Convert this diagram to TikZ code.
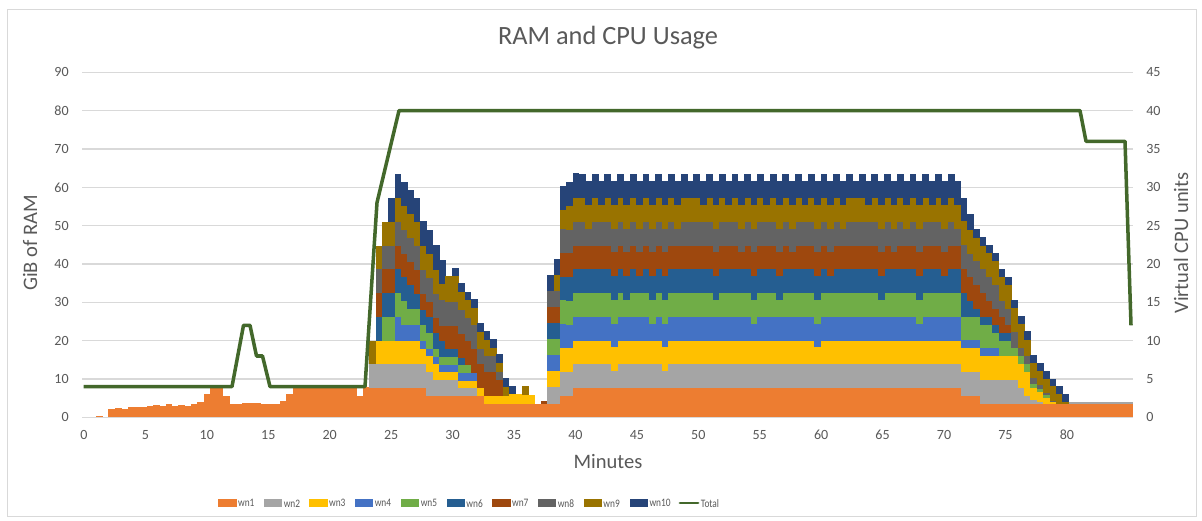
\documentclass[tikz,border=0pt]{standalone}
\usepackage{fontspec}
\setmainfont{Carlito}
\definecolor{w1}{HTML}{ED7D31}
\definecolor{w2}{HTML}{A5A5A5}
\definecolor{w3}{HTML}{FFC000}
\definecolor{w4}{HTML}{4472C4}
\definecolor{w5}{HTML}{70AD47}
\definecolor{w6}{HTML}{255E91}
\definecolor{w7}{HTML}{9E480E}
\definecolor{w8}{HTML}{636363}
\definecolor{w9}{HTML}{997300}
\definecolor{w10}{HTML}{264478}
\definecolor{totc}{HTML}{43682B}
\definecolor{gridc}{HTML}{D9D9D9}
\definecolor{txt}{HTML}{595959}
\newcommand\drawstack[1]{%
  \pgfmathsetmacro\za{\qa}%
  \pgfmathsetmacro\zb{\za+\qb}%
  \pgfmathsetmacro\zc{\zb+\qc}%
  \pgfmathsetmacro\zd{\zc+\qd}%
  \pgfmathsetmacro\ze{\zd+\qe}%
  \pgfmathsetmacro\zf{\ze+\qf}%
  \pgfmathsetmacro\zg{\zf+\qg}%
  \pgfmathsetmacro\zh{\zg+\qh}%
  \pgfmathsetmacro\zi{\zh+\qi}%
  \pgfmathsetmacro\zj{\zi+\qj}%
  \fill[w10] (#1,0) rectangle ++(1.07,\zj);
  \fill[w9] (#1,0) rectangle ++(1.07,\zi);
  \fill[w8] (#1,0) rectangle ++(1.07,\zh);
  \fill[w7] (#1,0) rectangle ++(1.07,\zg);
  \fill[w6] (#1,0) rectangle ++(1.07,\zf);
  \fill[w5] (#1,0) rectangle ++(1.07,\ze);
  \fill[w4] (#1,0) rectangle ++(1.07,\zd);
  \fill[w3] (#1,0) rectangle ++(1.07,\zc);
  \fill[w2] (#1,0) rectangle ++(1.07,\zb);
  \fill[w1] (#1,0) rectangle ++(1.07,\za);
}
\tikzset{
  gridln/.style={draw=gridc, line width=0.6pt},
  ticklab/.style={text=txt, font=\fontsize{8}{9.6}\selectfont, inner sep=0pt},
  axt/.style={text=txt, font=\fontsize{11.7}{14}\selectfont, inner sep=0pt},
  ttl/.style={text=txt, font=\fontsize{15}{18}\selectfont, inner sep=0pt},
  legtxt/.style={text=txt, font=\fontsize{6.5}{7.8}\selectfont, inner sep=0pt, anchor=west, xscale=0.82, transform shape},
  tot/.style={draw=totc, line width=2pt, line join=round},
}
\begin{document}
\begin{tikzpicture}[x=0.02cm,y=-0.02cm]
\useasboundingbox (0,0) rectangle (1202,520);
\fill[white] (0,0) rectangle (1202,520);
\draw[gridc, line width=0.6pt] (7.5,9.5) rectangle (1196.5,516.5);
% gridlines
\foreach \k in {1,...,9}{\draw[gridln] (82,{417.3-38.33*\k}) -- (1133,{417.3-38.33*\k});}
% data
\begin{scope}[shift={(83,417.3)}, x=0.1272cm, y=0.07666cm]
\foreach \cc/\v in {2/0.3,4/2.1,5/2.3,6/2.1,7/2.6,8/2.8,9/2.6,10/3.0,11/3.2,12/3.0,13/3.5,14/3.0,15/3.3,16/3.0,17/3.6,18/4.0,19/6.0,20/7.8,21/7.8,22/5.6,23/3.6,24/3.6,25/3.7,26/3.7,27/3.7,28/3.6,29/3.6,30/3.6,31/4.2,32/6.0,33/7.8,34/7.8,35/7.8,36/7.8,37/7.8,38/7.8,39/7.8,40/7.8,41/7.8,42/7.8,43/5.6,44/7.8}
  {\fill[w1] (\cc,0) rectangle ++(1.07,\v);}
\foreach \cc/\qa/\qb/\qc/\qd/\qe/\qf/\qg/\qh/\qi/\qj in {
45/7.6/6.2/0/0/0/0/0/0/6.2/0,
46/7.6/6.2/6.2/0/0/6.2/6.2/6.2/6.2/0,
47/7.6/6.2/6.2/0/6.2/6.2/6.2/6.2/6.2/0,
48/7.6/6.2/6.2/0/6.2/6.2/6.2/6.2/6.2/6.2,
49/7.6/6.2/6.2/6.2/6.2/6.2/6.2/6.2/6.2/6.2,
50/7.6/6.2/6.2/4.1/6.2/6.2/6.2/6.2/6.2/6.2,
51/7.6/6.2/6.2/4.1/4.1/6.2/6.2/6.2/6.2/6.2,
52/7.6/6.2/6.2/4.1/4.1/4.1/6.2/6.2/6.2/6.2,
53/7.6/6.2/4.1/2.0/4.1/4.1/4.1/6.2/6.2/6.6,
54/5.6/6.2/4.1/2.0/4.1/4.1/4.1/6.2/6.2/6.2,
55/5.6/4.1/4.1/2.0/2.0/4.1/4.1/6.2/6.2/6.6,
56/5.6/4.1/2.0/2.0/2.0/4.1/4.1/6.8/4.1/6.2,
57/5.6/4.1/2.0/2.0/2.0/2.0/6.2/6.2/6.9/0,
58/5.6/4.1/2.0/2.0/2.0/2.0/6.2/6.2/6.9/1.9,
59/5.6/2.0/2.0/2.0/2.0/2.0/6.2/6.2/4.8/2.2,
60/5.6/2.0/2.0/2.0/2.0/0/6.2/6.2/4.6/2.2,
61/5.6/2.0/2.0/2.0/0/0/6.2/6.2/4.6/2.2,
62/5.6/0/2.0/0/0/0/6.2/4.1/4.4/2.2,
63/3.6/0/2.0/0/0/0/6.2/4.1/4.4/2.2,
64/3.6/0/2.0/0/0/0/6.2/4.1/2.3/2.2,
65/3.6/0/2.0/0/0/0/4.1/2.0/2.5/2.2,
66/3.6/0/2.0/0/0/0/0/0/2.4/2.2,
67/3.6/0/2.4/0/0/0/0/0/0/2.2,
68/3.6/0/2.4/0/0/0/0/0/0/0,
69/3.6/0/2.2/0/0/0/0/0/2.4/0,
70/3.6/0/2.2/0/0/0/0/0/0/0,
71/3.6/0/0/0/0/0/0/0/0/0,
72/3.6/0/0/0/0/0/0.6/0/0/0,
73/3.6/4.2/4.2/4.2/4.2/4.2/4.2/4.2/0/4.2,
74/3.6/4.2/4.2/4.2/4.2/4.2/4.2/4.2/4.2/4.2,
75/5.6/6.3/6.2/6.2/6.2/6.2/6.2/6.2/5.0/6.2,
76/5.6/6.2/6.2/6.2/6.2/6.2/6.2/6.2/6.2/6.2,
77/7.6/6.2/6.2/6.2/6.2/6.2/6.2/6.2/6.2/6.6,
138/5.6/6.3/6.3/2.0/6.1/6.2/6.2/6.2/6.2/6.2,
139/5.6/6.3/6.3/2.0/6.1/4.0/6.2/6.2/6.2/4.2,
140/5.6/6.3/6.3/2.0/6.1/2.0/6.2/6.2/6.2/2.2,
141/3.6/6.1/6.3/2.1/6.1/2.0/6.2/6.2/6.2/2.3,
142/3.6/6.1/6.3/2.1/6.1/2.0/4.2/6.2/6.2/2.2,
143/3.6/6.1/6.3/2.1/4.0/2.0/4.2/6.2/6.2/2.2,
144/3.6/6.1/6.3/0/4.0/2.0/4.2/4.1/6.2/2.2,
145/3.6/6.1/6.3/0/4.0/2.0/2.2/4.1/6.2/2.2,
146/3.6/6.1/6.3/0/2.0/0/0/4.2/6.2/2.2,
147/3.6/4.1/6.3/0/2.0/0/0/2.1/6.2/2.2,
148/3.6/2.0/6.3/0/2.0/0/0/2.1/4.3/2.2,
149/3.6/1.0/3.0/0/1.2/0/0/1.4/4.0/2.0,
150/3.6/0.5/2.5/0/0.8/0/0/1.0/3.8/2.0,
151/3.6/0/1.5/0/0.8/0/0/0.4/3.8/2.0,
152/3.6/0/0.3/0/0/0/0/0.4/3.8/2.0,
153/3.6/0/0/0/0/0/0/0/2.5/2.0,
154/3.6/0/0/0/0/0/0/0/0.5/2.0,
155/3.6/0.3/0/0/0/0/0/0/0/0,
156/3.6/0.3/0/0/0/0/0/0/0/0,
157/3.6/0.3/0/0/0/0/0/0/0/0,
158/3.6/0.3/0/0/0/0/0/0/0/0,
159/3.6/0.3/0/0/0/0/0/0/0/0,
160/3.6/0.3/0/0/0/0/0/0/0/0,
161/3.6/0.3/0/0/0/0/0/0/0/0,
162/3.6/0.3/0/0/0/0/0/0/0/0,
163/3.6/0.3/0/0/0/0/0/0/0/0,
164/3.6/0.3/0/0/0/0/0/0/0/0}
  {\drawstack{\cc}}
% plateau: full columns
\foreach \cc in {78,80,...,136}{%
  \def\qa{7.6}\def\qb{6.2}\def\qc{6.2}\def\qd{6.2}\def\qe{6.2}%
  \def\qf{6.2}\def\qg{6.2}\def\qh{6.2}\def\qi{6.2}\def\qj{6.2}%
  \drawstack{\cc}}
% plateau: columns where one layer dips
\foreach \cc/\dl in {79/8,81/9,83/2,85/5,87/6,89/4,91/2,93/8,95/10,97/9,99/5,101/9,103/7,105/4,107/9,109/5,111/7,113/9,115/3,117/6,119/8,121/10,123/9,125/5,127/7,129/8,131/4,133/9,135/6,137/8}{%
  \def\qa{7.6}%
  \pgfmathsetmacro\qb{\dl==2?4.46:6.2}%
  \pgfmathsetmacro\qc{\dl==3?4.46:6.2}%
  \pgfmathsetmacro\qd{\dl==4?4.46:6.2}%
  \pgfmathsetmacro\qe{\dl==5?4.46:6.2}%
  \pgfmathsetmacro\qf{\dl==6?4.46:6.2}%
  \pgfmathsetmacro\qg{\dl==7?4.46:6.2}%
  \pgfmathsetmacro\qh{\dl==8?4.46:6.2}%
  \pgfmathsetmacro\qi{\dl==9?4.46:6.2}%
  \pgfmathsetmacro\qj{\dl==10?4.46:6.2}%
  \drawstack{\cc}}
\end{scope}
% axis line
\draw[gridln] (82,417.3) -- (1133,417.3);
% total line (secondary axis)
\draw[tot] (83.5,386.6) -- (232,386.6) -- (243.5,325.3) -- (250,325.3) -- (256.5,356) -- (262.5,356) -- (270,386.6) -- (365,386.6) -- (377,202.6) -- (399,110.6) -- (1080,110.6) -- (1086,141.3) -- (1125,141.3) -- (1131,325.3);
% axis labels
\foreach \k in {0,...,9}{%
  \pgfmathtruncatemacro\lv{10*\k}%
  \pgfmathtruncatemacro\rv{5*\k}%
  \node[ticklab,anchor=east] (yl\k) at (69,{417.3-38.33*\k}) {\lv};
  \node[ticklab,anchor=west] (yr\k) at (1146,{417.3-38.33*\k}) {\rv};
}
\foreach \k in {0,...,16}{%
  \pgfmathtruncatemacro\xv{5*\k}%
  \node[ticklab] (xl\k) at ({84+61.43*\k},435) {\xv};
}
\node[ttl] (title) at (608,38) {RAM and CPU Usage};
\node[axt,rotate=90] (ylab) at (30,243) {GiB of RAM};
\node[axt,rotate=90] (y2lab) at (1181,243) {Virtual CPU units};
\node[axt] (xlab) at (608,461) {Minutes};
% legend
\foreach \i/\xx in {1/218.3,2/264,3/309.3,4/355,5/401,6/446.7,7/492.3,8/538,9/583.7,10/629.7}{%
  \fill[w\i] (\xx,499) rectangle ++(18.3,8);
  \node[legtxt] (lg\i) at (\xx+19.5,503.3) {wn\i};
}
\coordinate (lgA) at (680,503);
\coordinate (lgB) at (698,503);
\draw[tot, line cap=round, line width=1.7pt] (lgA) -- (lgB);
\node[legtxt] (lgT) at (700.5,503.3) {Total};
\end{tikzpicture}
\end{document}
